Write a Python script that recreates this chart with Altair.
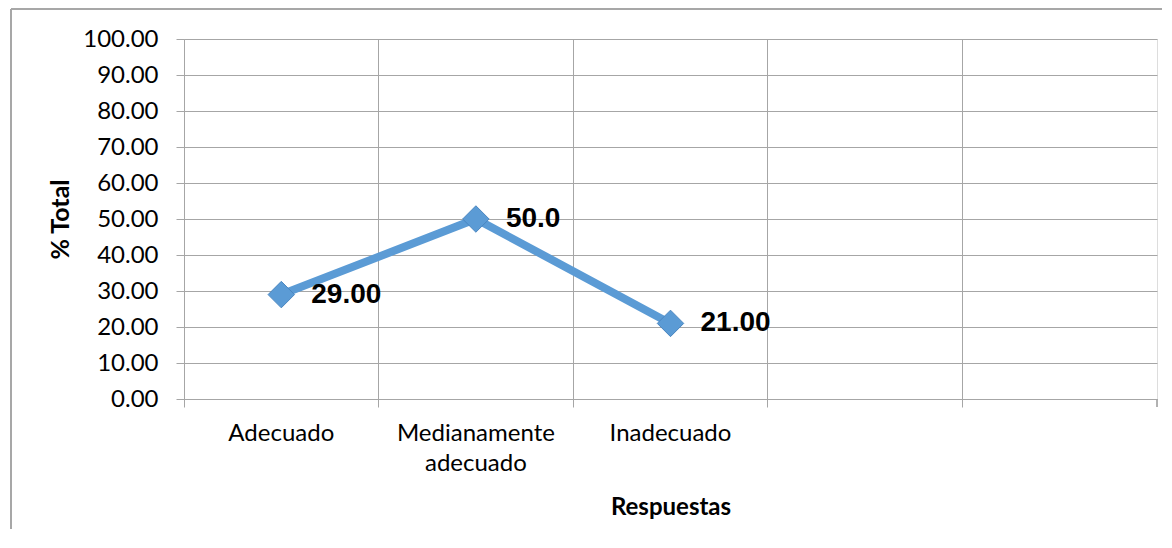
import altair as alt
import pandas as pd

categories = ["Adecuado", "Medianamente adecuado", "Inadecuado"]
slots = ["Adecuado", "Medianamente adecuado", "Inadecuado", "slot4", "slot5"]
values = [29.0, 50.0, 21.0]
value_labels = ["29.00", "50.0", "21.00"]
y_ticks = [0, 10, 20, 30, 40, 50, 60, 70, 80, 90, 100]

df = pd.DataFrame({"cat": categories, "val": values, "lab": value_labels})

GRID = "#a6a6a6"
BLUE = "#5b9bd5"

x = alt.X(
    "cat:N",
    scale=alt.Scale(type="band", domain=slots, paddingInner=0, paddingOuter=0),
    sort=slots,
    axis=alt.Axis(
        title="Respuestas",
        bandPosition=0,
        grid=True,
        gridColor=GRID,
        domainColor=GRID,
        tickColor=GRID,
        tickSize=8,
        labelAngle=0,
        labelFont="Lato",
        labelFontSize=24,
        labelColor="#000000",
        labelPadding=14,
        labelLineHeight=30,
        labelExpr="datum.value == 'Medianamente adecuado' ? ['Medianamente', 'adecuado'] : (indexof(datum.value, 'slot') == 0 ? '' : datum.label)",
        labelBound=False,
        labelOverlap=False,
        titleFont="Lato",
        titleFontSize=24,
        titleFontWeight="bold",
        titleColor="#000000",
        titleY=96,
        titleBaseline="top",
    ),
)

y = alt.Y(
    "val:Q",
    scale=alt.Scale(domain=[0, 100], nice=False),
    axis=alt.Axis(
        title="% Total",
        values=y_ticks,
        format=".2f",
        grid=True,
        gridColor=GRID,
        domainColor=GRID,
        tickColor=GRID,
        tickSize=8,
        labelFont="Lato",
        labelFontSize=24,
        labelColor="#000000",
        labelPadding=18,
        titleFont="Lato",
        titleFontSize=25,
        titleFontWeight="bold",
        titleColor="#000000",
        titleX=-111,
        titleY=180,
    ),
)

base = alt.Chart(df)

line = base.mark_line(color=BLUE, strokeWidth=8).encode(x=x, y=y)
points = base.mark_point(
    shape="diamond", size=700, filled=True, color=BLUE, opacity=1,
    stroke="#4a86c0", strokeWidth=1
).encode(x=x, y=y)
labels = base.mark_text(
    align="left", baseline="middle", dx=30, fontSize=28, fontWeight="bold",
    font="Liberation Sans", color="#000000"
).encode(x=x, y=y, text="lab:N")

border_left = alt.Chart(df).mark_rule(color=GRID, strokeWidth=1.5, clip=False).encode(
    x=alt.value(-173), y=alt.value(-30), y2=alt.value(600)
)
border_top = alt.Chart(df).mark_rule(color=GRID, strokeWidth=1.5, clip=False).encode(
    x=alt.value(-173), x2=alt.value(1200), y=alt.value(-30)
)
right_tick = alt.Chart(df).mark_rule(color=GRID, strokeWidth=1, clip=False).encode(
    x=alt.value(973), y=alt.value(360), y2=alt.value(368)
)

chart = (
    alt.layer(border_left, border_top, right_tick, line, points, labels)
    .properties(
        width=973,
        height=360,
        padding={"left": 176, "top": 31, "right": 5, "bottom": 130},
        autosize=alt.AutoSizeParams(type="none"),
    )
    .configure_view(stroke=GRID, strokeWidth=1)
    .configure(background="white")
)

chart.save("out.html", embed_options={"renderer": "svg", "actions": False})
